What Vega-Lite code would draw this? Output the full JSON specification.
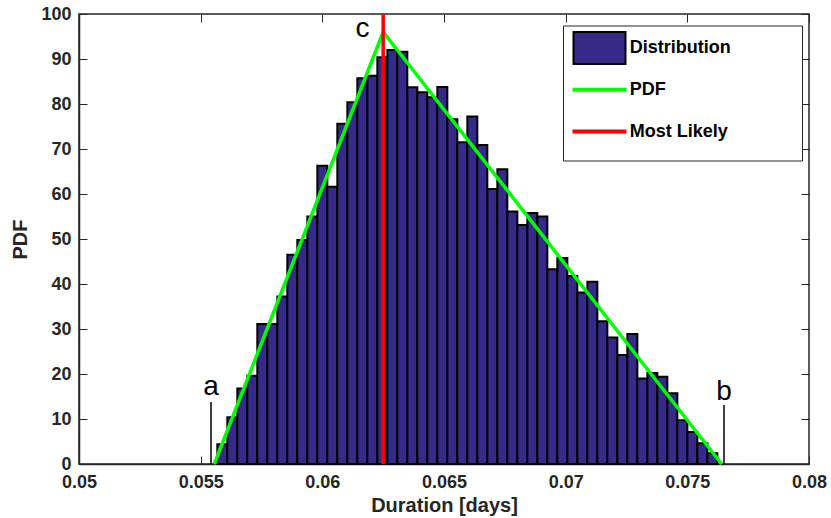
{
  "$schema": "https://vega.github.io/schema/vega-lite/v6.json",
  "width": 730,
  "height": 450,
  "autosize": {"type": "none"},
  "padding": {"left": 79, "top": 14, "right": 22, "bottom": 54},
  "background": "white",
  "config": {
    "view": {"stroke": "#262626", "strokeWidth": 1.5},
    "axis": {
      "grid": false,
      "labelFont": "Liberation Sans",
      "labelFontSize": 18,
      "labelFontWeight": "bold",
      "labelColor": "#262626",
      "titleFont": "Liberation Sans",
      "titleFontSize": 20,
      "titleFontWeight": "bold",
      "titleColor": "#262626",
      "tickColor": "#262626",
      "tickWidth": 1,
      "domainColor": "#262626",
      "domainWidth": 1.5,
      "labelOverlap": false,
      "labelFlush": false,
      "labelBound": false
    }
  },
  "datasets": {
    "hist": [
      {"x0": 0.055684, "x1": 0.056095, "pdf": 4.4},
      {"x0": 0.056095, "x1": 0.056506, "pdf": 10.4},
      {"x0": 0.056506, "x1": 0.056917, "pdf": 16.8},
      {"x0": 0.056917, "x1": 0.057328, "pdf": 19.6},
      {"x0": 0.057328, "x1": 0.057739, "pdf": 31.1},
      {"x0": 0.057739, "x1": 0.05815, "pdf": 31.1},
      {"x0": 0.05815, "x1": 0.058561, "pdf": 37.2},
      {"x0": 0.058561, "x1": 0.058972, "pdf": 46.5},
      {"x0": 0.058972, "x1": 0.059383, "pdf": 49.8},
      {"x0": 0.059383, "x1": 0.059794, "pdf": 55.0},
      {"x0": 0.059794, "x1": 0.060205, "pdf": 66.3},
      {"x0": 0.060205, "x1": 0.060616, "pdf": 61.6},
      {"x0": 0.060616, "x1": 0.061027, "pdf": 75.6},
      {"x0": 0.061027, "x1": 0.061438, "pdf": 80.4},
      {"x0": 0.061438, "x1": 0.061849, "pdf": 85.7},
      {"x0": 0.061849, "x1": 0.06226, "pdf": 86.3},
      {"x0": 0.06226, "x1": 0.062671, "pdf": 90.4},
      {"x0": 0.062671, "x1": 0.063082, "pdf": 92.0},
      {"x0": 0.063082, "x1": 0.063493, "pdf": 91.6},
      {"x0": 0.063493, "x1": 0.063904, "pdf": 83.7},
      {"x0": 0.063904, "x1": 0.064315, "pdf": 82.6},
      {"x0": 0.064315, "x1": 0.064726, "pdf": 81.5},
      {"x0": 0.064726, "x1": 0.065137, "pdf": 83.8},
      {"x0": 0.065137, "x1": 0.065548, "pdf": 76.6},
      {"x0": 0.065548, "x1": 0.065959, "pdf": 71.5},
      {"x0": 0.065959, "x1": 0.06637, "pdf": 77.2},
      {"x0": 0.06637, "x1": 0.066781, "pdf": 70.9},
      {"x0": 0.066781, "x1": 0.067192, "pdf": 61.1},
      {"x0": 0.067192, "x1": 0.067603, "pdf": 65.5},
      {"x0": 0.067603, "x1": 0.068014, "pdf": 56.1},
      {"x0": 0.068014, "x1": 0.068425, "pdf": 53.1},
      {"x0": 0.068425, "x1": 0.068836, "pdf": 55.8},
      {"x0": 0.068836, "x1": 0.069247, "pdf": 55.0},
      {"x0": 0.069247, "x1": 0.069658, "pdf": 43.3},
      {"x0": 0.069658, "x1": 0.070069, "pdf": 45.8},
      {"x0": 0.070069, "x1": 0.07048, "pdf": 41.8},
      {"x0": 0.07048, "x1": 0.070891, "pdf": 38.1},
      {"x0": 0.070891, "x1": 0.071302, "pdf": 40.5},
      {"x0": 0.071302, "x1": 0.071713, "pdf": 31.7},
      {"x0": 0.071713, "x1": 0.072124, "pdf": 28.1},
      {"x0": 0.072124, "x1": 0.072535, "pdf": 24.2},
      {"x0": 0.072535, "x1": 0.072946, "pdf": 28.9},
      {"x0": 0.072946, "x1": 0.073357, "pdf": 19.0},
      {"x0": 0.073357, "x1": 0.073768, "pdf": 20.2},
      {"x0": 0.073768, "x1": 0.074179, "pdf": 19.4},
      {"x0": 0.074179, "x1": 0.07459, "pdf": 15.7},
      {"x0": 0.07459, "x1": 0.075001, "pdf": 9.7},
      {"x0": 0.075001, "x1": 0.075412, "pdf": 7.1},
      {"x0": 0.075412, "x1": 0.075823, "pdf": 4.6},
      {"x0": 0.075823, "x1": 0.076234, "pdf": 2.4}
    ],
    "pdf": [
      {"d": 0.05556, "p": 0},
      {"d": 0.0625, "p": 96.0},
      {"d": 0.07641, "p": 0}
    ],
    "mode": [{"c": 0.0625}],
    "markers": [
      {"label": "a", "d": 0.055425, "h": 13.8},
      {"label": "b", "d": 0.076507, "h": 13.1}
    ],
    "labels": [
      {"label": "a", "d": 0.055425, "v": 15.3},
      {"label": "b", "d": 0.076507, "v": 14.3},
      {"label": "c", "d": 0.06165, "v": 94.9}
    ]
  },
  "resolve": {"axis": {"x": "independent", "y": "independent"}},
  "layer": [
    {
      "data": {"name": "hist"},
      "mark": {"type": "bar", "stroke": "black", "strokeWidth": 2, "opacity": 1},
      "encoding": {
        "x": {
          "field": "x0", "type": "quantitative",
          "scale": {"domain": [0.05, 0.08], "nice": false, "zero": false},
          "axis": {
            "orient": "bottom",
            "values": [0.05, 0.055, 0.06, 0.065, 0.07, 0.075, 0.08],
            "format": ".3~f",
            "title": "Duration [days]",
            "tickSize": -8,
            "labelPadding": 17,
            "titlePadding": 4
          }
        },
        "x2": {"field": "x1"},
        "y": {
          "field": "pdf", "type": "quantitative",
          "scale": {"domain": [0, 100], "nice": false},
          "axis": {
            "orient": "left",
            "values": [0, 10, 20, 30, 40, 50, 60, 70, 80, 90, 100],
            "format": "d",
            "title": "PDF",
            "tickSize": -8,
            "labelPadding": 16,
            "titlePadding": 10
          }
        },
        "y2": {"datum": 0},
        "color": {
          "datum": "Distribution",
          "type": "nominal",
          "scale": {"domain": ["Distribution", "PDF", "Most Likely"], "range": ["#352a87", "#00ff00", "#ff0000"]},
          "legend": {
            "title": null,
            "orient": "none",
            "legendX": 484,
            "legendY": 11.5,
            "padding": 8.5,
            "strokeColor": "#262626",
            "fillColor": "white",
            "symbolSize": 676,
            "symbolOffset": 14,
            "labelOffset": 16.3,
            "rowPadding": 1.8,
            "gridAlign": "all",
            "symbolOpacity": 1,
            "symbolStrokeWidth": 2,
            "symbolType": {"expr": "datum.value === 'Distribution' ? 'M-2,-1.23H2V1.23H-2Z' : 'M-2,-1.23M-2,-0.077H2V0.077H-2ZM2,1.23'"},
            "symbolStrokeColor": {"expr": "datum.value === 'Distribution' ? 'black' : (datum.value === 'PDF' ? '#00ff00' : '#ff0000')"},
            "labelFont": "Liberation Sans",
            "labelFontSize": 18,
            "labelFontWeight": "bold",
            "labelColor": "black",
            "labelLimit": 400,
            "labelExpr": "datum.label + (datum.label === 'Most Likely' ? '\u2800\u2800\u2800\u2800\u2800' : '')"
          }
        }
      }
    },
    {
      "data": {"name": "pdf"},
      "mark": {"type": "line", "strokeWidth": 3.5, "color": "#00ff00"},
      "encoding": {
        "x": {"field": "d", "type": "quantitative", "axis": null},
        "y": {"field": "p", "type": "quantitative", "axis": null}
      }
    },
    {
      "data": {"name": "mode"},
      "mark": {"type": "rule", "strokeWidth": 3.5, "color": "#ff0000"},
      "encoding": {
        "x": {"field": "c", "type": "quantitative", "axis": null}
      }
    },
    {
      "data": {"name": "markers"},
      "mark": {"type": "rule", "color": "black", "strokeWidth": 1.5},
      "encoding": {
        "x": {
          "field": "d", "type": "quantitative",
          "axis": {
            "orient": "top",
            "values": [0.05, 0.055, 0.06, 0.065, 0.07, 0.075, 0.08],
            "labels": false, "title": null, "domain": false, "tickSize": -8
          }
        },
        "y": {
          "field": "h", "type": "quantitative",
          "axis": {
            "orient": "right",
            "values": [0, 10, 20, 30, 40, 50, 60, 70, 80, 90, 100],
            "labels": false, "title": null, "domain": false, "tickSize": -8
          }
        },
        "y2": {"datum": 0}
      }
    },
    {
      "data": {"name": "labels"},
      "mark": {"type": "text", "font": "Liberation Sans", "fontSize": 28, "align": "center", "baseline": "alphabetic", "color": "black"},
      "encoding": {
        "x": {"field": "d", "type": "quantitative", "axis": null},
        "y": {"field": "v", "type": "quantitative", "axis": null},
        "text": {"field": "label"}
      }
    }
  ]
}
